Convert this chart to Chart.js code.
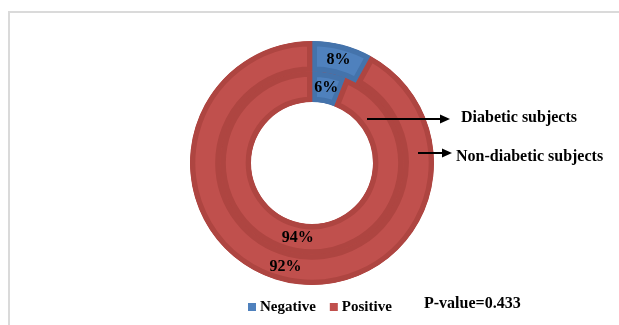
<!DOCTYPE html>
<html>
<head>
<meta charset="utf-8">
<script src="https://cdn.jsdelivr.net/npm/chart.js@4.4.1/dist/chart.umd.min.js"></script>
<style>
  html, body { margin: 0; padding: 0; background: #fff; }
  #wrap { position: relative; width: 619px; height: 325px; overflow: hidden; }
  #frame {
    position: absolute; left: 8px; top: 11px; right: -10px; bottom: -10px;
    border-top: 2px solid #dadada; border-left: 2px solid #dadada;
  }
  canvas { position: absolute; left: 0; top: 0; }
</style>
</head>
<body>
<div id="wrap">
  <div id="frame"></div>
  <canvas id="chart" width="619" height="325"></canvas>
</div>
<script>
const categories = ["Negative", "Positive"];
const nonDiabetic = [8, 92];
const diabetic = [6, 94];
const ringNames = ["Non-diabetic subjects", "Diabetic subjects"];
const pValueText = "P-value=0.433";

const fillColors = ["#4f81bd", "#c0504d"];
const edgeColors = ["#4473ab", "#ae4541"];

const serif = "'Liberation Serif', 'Times New Roman', serif";

// dark ring behind the arcs so the seams between them don't show white
const underlay = {
  id: "underlay",
  beforeDatasetsDraw(chart) {
    const a = chart.getDatasetMeta(0).data[0];
    const b = chart.getDatasetMeta(1).data[0];
    const ctx = chart.ctx;
    ctx.save();
    ctx.fillStyle = edgeColors[1];
    ctx.beginPath();
    ctx.arc(a.x, a.y, a.outerRadius - 0.5, 0, Math.PI * 2);
    ctx.arc(a.x, a.y, b.innerRadius + 0.5, 0, Math.PI * 2, true);
    ctx.fill();
    ctx.restore();
  }
};

// percent labels, arrows, legend and p-value text
const overlay = {
  id: "overlay",
  afterDatasetsDraw(chart) {
    const ctx = chart.ctx;
    ctx.save();
    ctx.fillStyle = "#000";
    ctx.textAlign = "center";
    ctx.textBaseline = "middle";
    ctx.font = "bold 16px " + serif;
    chart.data.datasets.forEach((ds, i) => {
      const meta = chart.getDatasetMeta(i);
      meta.data.forEach((arc, j) => {
        const p = arc.getCenterPoint();
        ctx.fillText(ds.data[j] + "%", p.x, p.y);
      });
    });

    const outer = chart.getDatasetMeta(0).data[0];
    const cx = outer.x, cy = outer.y;

    function arrow(x1, y, x2) {
      ctx.strokeStyle = "#000";
      ctx.lineWidth = 2;
      ctx.beginPath();
      ctx.moveTo(x1, y);
      ctx.lineTo(x2 - 8, y);
      ctx.stroke();
      ctx.beginPath();
      ctx.moveTo(x2, y);
      ctx.lineTo(x2 - 10, y - 4.5);
      ctx.lineTo(x2 - 10, y + 4.5);
      ctx.closePath();
      ctx.fill();
    }

    // Diabetic subjects -> inner ring
    arrow(cx + 55, cy - 44, cx + 138);
    // Non-diabetic subjects -> outer ring
    arrow(cx + 106, cy - 10, cx + 140);

    ctx.textAlign = "left";
    ctx.font = "bold 16px " + serif;
    ctx.fillText(ringNames[1], cx + 149, cy - 45);
    ctx.fillText(ringNames[0], cx + 144, cy - 6);

    // legend
    let x = 248;
    const ly = 307;
    ctx.font = "bold 15px " + serif;
    categories.forEach((c, k) => {
      ctx.fillStyle = fillColors[k];
      ctx.fillRect(x, ly - 4, 8, 8);
      ctx.fillStyle = "#000";
      ctx.fillText(c, x + 12, ly);
      x += 12 + ctx.measureText(c).width + 14;
    });

    ctx.font = "bold 16px " + serif;
    ctx.fillText(pValueText, 424, 304);
    ctx.restore();
  }
};

new Chart(document.getElementById("chart"), {
  type: "doughnut",
  data: {
    labels: categories,
    datasets: [
      {
        label: ringNames[0],
        data: nonDiabetic,
        backgroundColor: fillColors,
        borderColor: edgeColors,
        borderWidth: 5,
        borderAlign: "inner",
        hoverOffset: 0
      },
      {
        label: ringNames[1],
        data: diabetic,
        backgroundColor: fillColors,
        borderColor: edgeColors,
        borderWidth: 5,
        borderAlign: "inner",
        hoverOffset: 0
      }
    ]
  },
  options: {
    responsive: false,
    animation: false,
    cutout: "50%",
    layout: {
      padding: { left: 190, right: 185, top: 41, bottom: 40 }
    },
    plugins: {
      legend: { display: false },
      tooltip: { enabled: false }
    }
  },
  plugins: [underlay, overlay]
});
</script>
</body>
</html>
